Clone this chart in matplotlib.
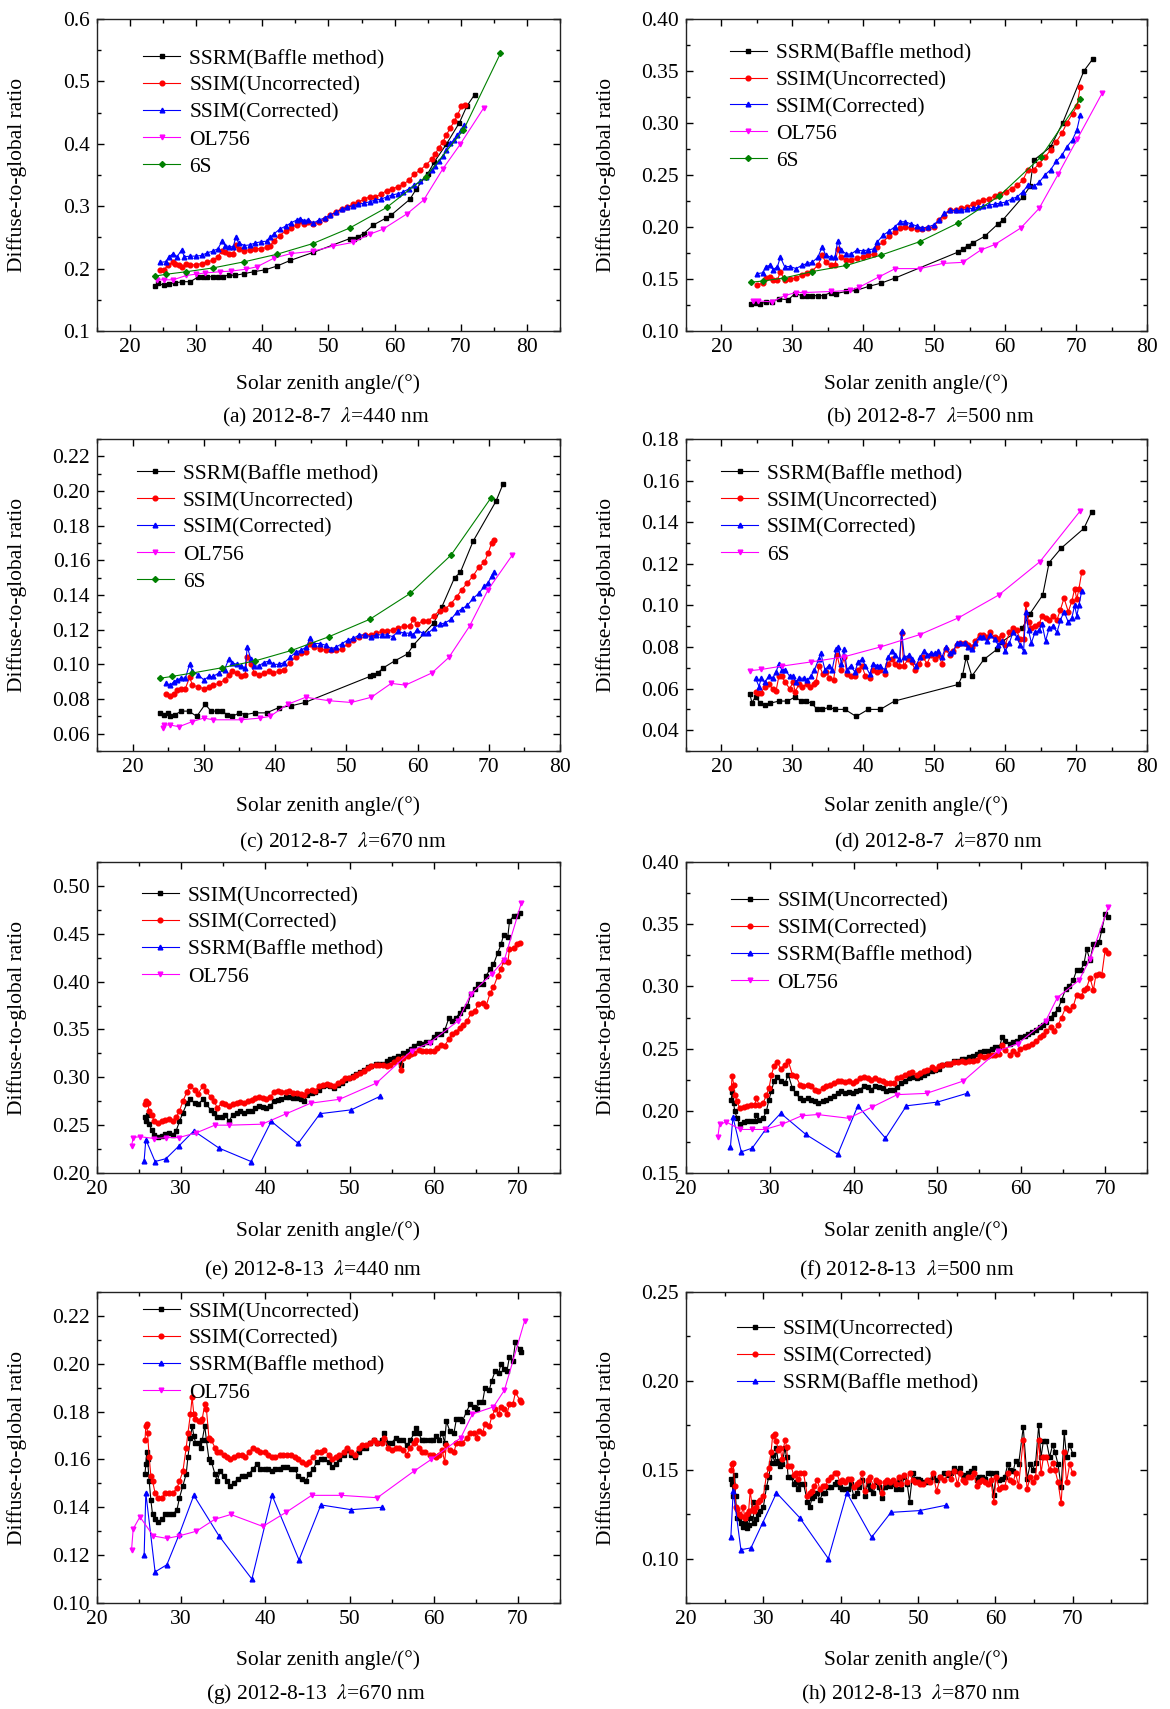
import matplotlib
matplotlib.use("Agg")
import matplotlib.pyplot as plt
from matplotlib.ticker import MultipleLocator, FormatStrFormatter

plt.rcParams['font.family'] = ['Liberation Serif', 'DejaVu Serif']
plt.rcParams['mathtext.fontset'] = 'stix'
FS = 15.5
plt.rcParams['font.size'] = FS

# ---------------- (a) 2012-8-7, 440 nm ----------------
a_ssrm_x = [23.7, 24.2, 25.1, 25.9, 26.8, 27.9, 29.1, 30.2, 31.0, 31.6, 32.5, 33.3, 34.0, 35.0, 35.8, 37.3, 38.7, 40.4,
            42.2, 44.2, 47.7, 53.2, 53.8, 54.4, 55.3, 56.8, 58.7, 59.5, 62.3, 63.3, 65.0, 66.0, 67.8, 69.8, 70.9, 72.1]
a_ssrm_y = [0.172, 0.177, 0.173, 0.176, 0.177, 0.179, 0.179, 0.186, 0.186, 0.187, 0.187, 0.186, 0.187, 0.190, 0.189,
            0.192, 0.195, 0.198, 0.204, 0.213, 0.226, 0.248, 0.248, 0.251, 0.256, 0.270, 0.281, 0.286, 0.311, 0.328,
            0.352, 0.371, 0.399, 0.434, 0.460, 0.479]
a_unc_x = [24.5, 25.1, 25.7, 26.5, 26.8, 27.4, 27.9, 28.5, 29.1, 29.9, 30.8, 31.6, 32.5, 33.3, 33.9, 34.4, 35.0, 35.6,
           36.0, 36.4, 37.3, 38.1, 38.9, 39.8, 40.7, 41.2, 41.8, 42.6, 43.5, 44.3, 45.2, 45.7, 46.3, 46.9, 47.7, 48.6,
           49.4, 50.3, 51.1, 52.0, 52.8, 53.7, 54.5, 55.4, 56.2, 57.1, 57.9, 58.8, 59.6, 60.5, 61.3, 62.2, 63.0, 63.9,
           64.7, 65.6, 66.1, 66.7, 67.3, 67.8, 68.4, 69.0, 69.5, 70.1, 70.7]
a_unc_y = [0.197, 0.198, 0.205, 0.211, 0.208, 0.205, 0.203, 0.208, 0.206, 0.206, 0.208, 0.211, 0.213, 0.219, 0.229,
           0.226, 0.223, 0.223, 0.238, 0.232, 0.229, 0.230, 0.232, 0.232, 0.234, 0.237, 0.245, 0.253, 0.260, 0.265,
           0.270, 0.276, 0.271, 0.275, 0.271, 0.275, 0.280, 0.286, 0.291, 0.296, 0.299, 0.303, 0.307, 0.311, 0.315,
           0.315, 0.319, 0.325, 0.328, 0.331, 0.335, 0.342, 0.352, 0.358, 0.366, 0.375, 0.383, 0.394, 0.403, 0.414,
           0.425, 0.436, 0.446, 0.460, 0.462]
a_cor_x = [24.5, 25.4, 25.9, 26.5, 27.1, 27.8, 28.2, 29.1, 29.9, 30.8, 31.6, 32.5, 33.3, 33.9, 34.4, 35.0, 35.6, 36.0,
           36.4, 37.3, 38.1, 38.9, 39.8, 40.7, 41.2, 41.8, 42.6, 43.5, 44.3, 45.2, 45.7, 46.3, 46.9, 47.7, 48.6, 49.4,
           50.3, 51.1, 52.0, 52.8, 53.7, 54.5, 55.4, 56.2, 57.1, 57.9, 58.8, 59.6, 60.5, 61.3, 62.2, 63.0, 63.9, 64.7,
           65.6, 66.1, 66.7, 67.3, 67.8, 68.4, 69.0, 69.5, 70.1, 70.5]
a_cor_y = [0.210, 0.211, 0.219, 0.224, 0.219, 0.230, 0.219, 0.220, 0.220, 0.221, 0.225, 0.228, 0.232, 0.244, 0.237,
           0.235, 0.235, 0.251, 0.241, 0.237, 0.238, 0.241, 0.243, 0.244, 0.250, 0.256, 0.263, 0.268, 0.273, 0.278,
           0.280, 0.277, 0.278, 0.273, 0.278, 0.281, 0.286, 0.290, 0.295, 0.298, 0.301, 0.303, 0.305, 0.307, 0.310,
           0.311, 0.315, 0.318, 0.320, 0.323, 0.328, 0.334, 0.340, 0.347, 0.358, 0.364, 0.372, 0.380, 0.390, 0.401,
           0.406, 0.414, 0.422, 0.430]
a_ol_x = [24.0, 25.1, 26.5, 28.5, 29.9, 31.3, 33.6, 35.3, 37.5, 39.2, 41.8, 44.3, 47.7, 50.7, 53.7, 56.2, 58.2, 61.9,
          64.4, 67.3, 69.9, 73.5]
a_ol_y = [0.182, 0.182, 0.182, 0.189, 0.191, 0.193, 0.195, 0.196, 0.199, 0.203, 0.217, 0.224, 0.228, 0.236, 0.242,
          0.255, 0.263, 0.288, 0.310, 0.360, 0.399, 0.458]
a_6s_x = [23.8, 25.5, 28.5, 32.5, 37.3, 42.2, 47.6, 53.2, 58.8, 64.7, 70.4, 76.0]
a_6s_y = [0.188, 0.191, 0.195, 0.201, 0.211, 0.223, 0.240, 0.265, 0.298, 0.347, 0.422, 0.545]

# ---------------- (b) 2012-8-7, 500 nm ----------------
b_ssrm_x = [24.2, 24.8, 25.5, 26.3, 27.1, 28.1, 29.4, 30.4, 31.3, 32.1, 32.8, 33.6, 34.4, 35.4, 36.1, 37.6, 39.0, 40.8,
            42.5, 44.5, 53.4, 54.1, 54.7, 55.5, 57.1, 59.0, 59.7, 62.5, 63.5, 64.0, 66.4, 68.1, 71.1, 72.4]
b_ssrm_y = [0.126, 0.127, 0.126, 0.128, 0.128, 0.131, 0.130, 0.136, 0.134, 0.134, 0.134, 0.134, 0.134, 0.137, 0.136,
            0.138, 0.139, 0.143, 0.146, 0.151, 0.176, 0.179, 0.182, 0.185, 0.191, 0.203, 0.207, 0.229, 0.239, 0.264,
            0.277, 0.300, 0.350, 0.362]
b_ssim_x = [25.0, 25.8, 26.3, 26.8, 27.3, 27.9, 28.3, 28.9, 29.7, 30.5, 31.3, 32.1, 32.8, 33.6, 34.2, 34.7, 35.4, 36.0,
            36.4, 36.8, 37.6, 38.3, 39.1, 39.9, 40.7, 41.5, 42.0, 42.8, 43.6, 44.4, 45.2, 45.9, 46.7, 47.5, 48.3, 49.1,
            49.9, 50.7, 51.4, 52.2, 53.0, 53.8, 54.6, 55.4, 56.2, 56.9, 57.7, 58.5, 59.3, 60.1, 60.9, 61.7, 62.5, 63.2,
            64.0, 64.8, 65.6, 66.4, 67.2, 68.0, 68.7, 69.5, 70.1, 70.6]
b_unc_y = [0.144, 0.146, 0.151, 0.152, 0.149, 0.149, 0.157, 0.149, 0.150, 0.151, 0.154, 0.156, 0.158, 0.163, 0.173,
           0.166, 0.163, 0.163, 0.179, 0.171, 0.168, 0.168, 0.170, 0.171, 0.173, 0.174, 0.181, 0.186, 0.191, 0.195,
           0.199, 0.200, 0.199, 0.198, 0.198, 0.199, 0.200, 0.207, 0.211, 0.216, 0.216, 0.218, 0.219, 0.222, 0.224,
           0.226, 0.227, 0.230, 0.232, 0.234, 0.237, 0.240, 0.245, 0.255, 0.255, 0.261, 0.267, 0.274, 0.282, 0.290,
           0.300, 0.309, 0.316, 0.335]
b_cor_y = [0.155, 0.156, 0.162, 0.163, 0.159, 0.162, 0.171, 0.162, 0.162, 0.160, 0.163, 0.165, 0.166, 0.171, 0.181,
           0.173, 0.171, 0.171, 0.187, 0.178, 0.174, 0.174, 0.178, 0.177, 0.178, 0.179, 0.186, 0.192, 0.196, 0.200,
           0.205, 0.205, 0.203, 0.201, 0.199, 0.200, 0.202, 0.207, 0.213, 0.216, 0.216, 0.216, 0.217, 0.218, 0.219,
           0.220, 0.221, 0.222, 0.223, 0.224, 0.227, 0.229, 0.234, 0.240, 0.239, 0.243, 0.250, 0.255, 0.263, 0.269,
           0.277, 0.284, 0.293, 0.308]
b_ol_x = [24.5, 25.2, 27.1, 28.9, 30.5, 31.7, 35.5, 38.1, 39.4, 42.2, 44.5, 48.0, 51.2, 54.0, 56.6, 58.5, 62.2, 64.8,
          67.5, 70.2, 73.7]
b_ol_y = [0.129, 0.129, 0.128, 0.134, 0.137, 0.137, 0.138, 0.139, 0.142, 0.152, 0.160, 0.160, 0.165, 0.166, 0.178,
          0.183, 0.199, 0.218, 0.251, 0.285, 0.329]
b_6s_x = [24.2, 25.8, 28.8, 32.7, 37.6, 42.5, 48.0, 53.4, 59.2, 65.0, 70.6]
b_6s_y = [0.147, 0.148, 0.151, 0.157, 0.163, 0.173, 0.186, 0.204, 0.230, 0.267, 0.323]

# ---------------- (c) 2012-8-7, 670 nm ----------------
c_ssrm_x = [23.8, 24.4, 24.9, 25.3, 26.0, 26.8, 27.9, 29.0, 30.2, 31.0, 31.8, 32.5, 33.3, 34.0, 35.0, 35.8, 37.2, 38.8,
            40.5, 42.2, 44.2, 53.3, 53.8, 54.4, 55.2, 56.8, 58.6, 59.4, 62.3, 63.4, 65.2, 66.0, 67.8, 71.0, 72.0]
c_ssrm_y = [0.072, 0.071, 0.072, 0.070, 0.071, 0.073, 0.073, 0.070, 0.077, 0.073, 0.073, 0.073, 0.071, 0.070, 0.072,
            0.071, 0.072, 0.072, 0.075, 0.076, 0.078, 0.093, 0.094, 0.095, 0.098, 0.102, 0.106, 0.111, 0.124, 0.133,
            0.150, 0.153, 0.171, 0.194, 0.204]
c_ssim_x = [24.7, 25.3, 25.8, 26.3, 26.8, 27.4, 28.0, 28.4, 29.2, 30.0, 30.7, 31.3, 32.1, 32.9, 33.5, 34.0, 34.6, 35.2,
            35.8, 36.1, 36.6, 37.1, 37.7, 38.4, 39.2, 39.7, 40.5, 41.3, 42.1, 42.9, 43.6, 44.4, 44.9, 45.5, 46.3, 47.1,
            47.9, 48.6, 49.4, 50.2, 51.0, 51.8, 52.6, 53.4, 54.2, 55.0, 55.7, 56.5, 57.3, 58.1, 58.9, 59.4, 59.9, 60.7,
            61.5, 62.3, 63.1, 63.9, 64.7, 65.5, 66.2, 67.0, 67.8, 68.6, 69.4, 69.9, 70.4, 70.8]
c_unc_y = [0.083, 0.082, 0.083, 0.085, 0.086, 0.086, 0.0925, 0.088, 0.087, 0.086, 0.087, 0.088, 0.089, 0.091, 0.094,
           0.096, 0.095, 0.093, 0.094, 0.1045, 0.100, 0.095, 0.094, 0.095, 0.096, 0.095, 0.096, 0.097, 0.101, 0.1045,
           0.1065, 0.107, 0.112, 0.110, 0.109, 0.108, 0.108, 0.108, 0.109, 0.112, 0.114, 0.116, 0.117, 0.117, 0.118,
           0.119, 0.119, 0.120, 0.121, 0.122, 0.122, 0.126, 0.123, 0.125, 0.125, 0.128, 0.131, 0.132, 0.135, 0.139,
           0.143, 0.147, 0.151, 0.156, 0.159, 0.164, 0.170, 0.172]
c_cor_y = [0.089, 0.088, 0.090, 0.091, 0.092, 0.092, 0.100, 0.096, 0.094, 0.091, 0.093, 0.093, 0.095, 0.097, 0.103,
           0.101, 0.100, 0.099, 0.098, 0.110, 0.103, 0.099, 0.099, 0.101, 0.102, 0.100, 0.100, 0.101, 0.104, 0.107,
           0.108, 0.110, 0.115, 0.112, 0.112, 0.111, 0.109, 0.110, 0.112, 0.114, 0.115, 0.117, 0.117, 0.116, 0.117,
           0.117, 0.117, 0.116, 0.119, 0.118, 0.118, 0.117, 0.120, 0.118, 0.118, 0.121, 0.123, 0.124, 0.126, 0.130,
           0.132, 0.134, 0.138, 0.141, 0.145, 0.147, 0.151, 0.153]
c_ol_x = [24.2, 24.4, 25.3, 26.5, 28.4, 30.0, 31.3, 35.2, 37.9, 39.3, 41.8, 44.3, 47.6, 50.7, 53.5, 56.3, 58.3, 62.0,
          64.4, 67.3, 69.9, 73.3]
c_ol_y = [0.063, 0.065, 0.065, 0.064, 0.067, 0.069, 0.068, 0.068, 0.069, 0.070, 0.077, 0.081, 0.079, 0.078, 0.081,
          0.089, 0.088, 0.095, 0.104, 0.122, 0.143, 0.163]
c_6s_x = [23.9, 25.5, 28.4, 32.5, 37.2, 42.3, 47.6, 53.3, 59.0, 64.7, 70.3]
c_6s_y = [0.092, 0.093, 0.095, 0.098, 0.102, 0.108, 0.116, 0.126, 0.141, 0.163, 0.196]

# ---------------- (d) 2012-8-7, 870 nm ----------------
d_ssrm_x = [24.0, 24.3, 24.8, 25.5, 26.1, 26.9, 28.1, 29.3, 30.4, 31.2, 31.9, 32.7, 33.5, 34.2, 35.2, 36.0, 37.4, 39.0,
            40.7, 42.4, 44.4, 53.4, 54.0, 54.5, 55.3, 57.0, 58.9, 59.5, 62.4, 63.5, 65.3, 66.2, 67.9, 71.1, 72.2]
d_ssrm_y = [0.0573, 0.0533, 0.056, 0.053, 0.052, 0.053, 0.054, 0.054, 0.056, 0.054, 0.054, 0.053, 0.050, 0.050, 0.051,
            0.050, 0.050, 0.0466, 0.050, 0.050, 0.054, 0.062, 0.0665, 0.075, 0.066, 0.074, 0.079, 0.0825, 0.089, 0.096,
            0.105, 0.1206, 0.1275, 0.137, 0.145]
d_unc_x = [24.8, 25.1, 25.6, 26.1, 26.7, 27.2, 27.7, 28.1, 28.5, 29.0, 29.6, 30.1, 30.4, 30.9, 31.4, 32.0, 32.5, 33.0,
           33.3, 33.8, 34.3, 34.8, 35.2, 35.8, 36.3, 36.8, 37.3, 37.7, 38.2, 38.8, 39.3, 39.8, 40.3, 40.9, 41.4, 41.9,
           42.4, 43.0, 43.5, 44.0, 44.5, 45.1, 45.4, 45.7, 46.3, 46.8, 47.3, 47.9, 48.4, 49.0, 49.5, 50.1, 50.6, 51.1,
           51.6, 52.2, 52.7, 53.2, 53.7, 54.3, 54.8, 55.3, 55.8, 56.4, 56.9, 57.4, 57.9, 58.5, 59.0, 59.5, 60.0, 60.6,
           61.1, 61.6, 62.1, 62.6, 62.9, 63.3, 63.7, 64.2, 64.8, 65.2, 65.7, 66.2, 66.8, 67.3, 67.8, 68.3, 68.9, 69.4,
           69.8, 70.1, 70.4, 70.8]
d_unc_y = [0.0585, 0.058, 0.058, 0.061, 0.062, 0.060, 0.059, 0.066, 0.066, 0.063, 0.060, 0.063, 0.0585, 0.062, 0.061,
           0.062, 0.061, 0.062, 0.063, 0.071, 0.067, 0.068, 0.065, 0.064, 0.076, 0.069, 0.075, 0.067, 0.066, 0.066,
           0.069, 0.071, 0.066, 0.065, 0.069, 0.068, 0.069, 0.067, 0.072, 0.074, 0.072, 0.071, 0.0865, 0.071, 0.074,
           0.073, 0.069, 0.072, 0.075, 0.072, 0.076, 0.074, 0.076, 0.072, 0.079, 0.076, 0.078, 0.081, 0.082, 0.082,
           0.081, 0.080, 0.083, 0.086, 0.086, 0.085, 0.087, 0.085, 0.084, 0.086, 0.081, 0.087, 0.089, 0.088, 0.084,
           0.084, 0.1005, 0.092, 0.089, 0.090, 0.091, 0.095, 0.094, 0.093, 0.095, 0.093, 0.098, 0.1035, 0.097, 0.102,
           0.108, 0.103, 0.108, 0.116]
d_cor_x = [24.8, 25.3, 25.6, 26.1, 26.7, 27.2, 27.7, 28.1, 28.5, 29.0, 29.6, 30.1, 30.5, 31.0, 31.6, 32.1, 32.6, 33.1,
           33.7, 34.0, 34.6, 35.1, 35.6, 36.2, 36.5, 36.9, 37.3, 37.7, 38.2, 38.8, 39.3, 39.8, 40.3, 40.9, 41.4, 41.9,
           42.4, 43.0, 43.5, 44.0, 44.5, 45.1, 45.4, 45.8, 46.4, 46.9, 47.4, 48.0, 48.5, 49.0, 49.6, 50.1, 50.6, 51.1,
           51.6, 52.2, 52.7, 53.2, 53.7, 54.3, 54.8, 55.3, 55.8, 56.4, 56.9, 57.4, 57.9, 58.5, 59.0, 59.5, 60.0, 60.6,
           61.1, 61.6, 62.1, 62.6, 62.9, 63.3, 63.7, 64.2, 64.8, 65.2, 65.7, 66.2, 66.8, 67.3, 67.8, 68.3, 68.9, 69.4,
           69.8, 70.1, 70.4, 70.8]
d_cor_y = [0.065, 0.061, 0.065, 0.063, 0.066, 0.065, 0.068, 0.072, 0.069, 0.069, 0.066, 0.066, 0.063, 0.065, 0.065,
           0.064, 0.066, 0.069, 0.074, 0.077, 0.069, 0.071, 0.069, 0.079, 0.080, 0.072, 0.079, 0.069, 0.071, 0.068,
           0.073, 0.074, 0.071, 0.067, 0.072, 0.071, 0.071, 0.069, 0.075, 0.078, 0.076, 0.074, 0.0875, 0.075, 0.076,
           0.074, 0.071, 0.075, 0.078, 0.076, 0.077, 0.077, 0.078, 0.075, 0.080, 0.077, 0.078, 0.082, 0.082, 0.082,
           0.080, 0.079, 0.082, 0.085, 0.085, 0.083, 0.086, 0.084, 0.081, 0.083, 0.078, 0.082, 0.087, 0.085, 0.081,
           0.078, 0.097, 0.088, 0.082, 0.087, 0.088, 0.091, 0.083, 0.089, 0.090, 0.087, 0.093, 0.097, 0.092, 0.094,
           0.100, 0.095, 0.100, 0.107]
d_6s_x = [24.0, 25.6, 28.5, 32.6, 37.3, 42.4, 48.0, 53.4, 59.1, 64.9, 70.6]
d_6s_y = [0.0686, 0.0692, 0.0708, 0.0728, 0.0753, 0.080, 0.086, 0.094, 0.105, 0.121, 0.1455]

# ---------------- (e) 2012-8-13, 440 nm ----------------
e_ssim_x = [25.7, 25.8, 26.0, 26.2, 26.5, 26.8, 27.2, 27.7, 28.1, 28.6, 29.0, 29.4, 29.8, 30.2, 30.7, 31.1, 31.6, 32.0,
            32.6, 33.0, 33.5, 33.9, 34.3, 34.8, 35.2, 35.7, 36.1, 36.6, 37.0, 37.5, 37.9, 38.4, 38.8, 39.3, 39.7, 40.1,
            40.6, 41.0, 41.5, 41.9, 42.4, 42.8, 43.3, 43.7, 44.2, 44.6, 45.0, 45.5, 45.9, 46.4, 46.8, 47.3, 47.7, 48.2,
            48.6, 49.1, 49.5, 49.9, 50.4, 50.8, 51.3, 51.7, 52.2, 52.6, 53.1, 53.5, 54.0, 54.4, 54.8, 55.3, 55.7, 56.1,
            56.4, 56.9, 57.3, 57.7, 58.2, 58.6, 59.1, 59.5, 60.0, 60.4, 60.9, 61.3, 61.8, 62.2, 62.6, 63.1, 63.5, 64.0,
            64.4, 64.9, 65.3, 65.8, 66.2, 66.7, 67.1, 67.6, 68.0, 68.3, 68.8, 69.0, 69.5, 69.9, 70.2]
e_unc_y = [0.258, 0.254, 0.261, 0.251, 0.245, 0.240, 0.238, 0.239, 0.241, 0.242,
           0.240, 0.244, 0.254, 0.263, 0.273, 0.277, 0.273, 0.272, 0.277, 0.272,
           0.266, 0.263, 0.258, 0.259, 0.261, 0.254, 0.261, 0.263, 0.265, 0.263,
           0.265, 0.265, 0.268, 0.270, 0.269, 0.268, 0.270, 0.275, 0.276, 0.277,
           0.279, 0.279, 0.278, 0.278, 0.277, 0.275, 0.282, 0.284, 0.285, 0.287,
           0.291, 0.292, 0.291, 0.289, 0.292, 0.294, 0.297, 0.299, 0.301, 0.303,
           0.306, 0.308, 0.311, 0.312, 0.314, 0.314, 0.314, 0.317, 0.319, 0.320,
           0.322, 0.313, 0.325, 0.327, 0.330, 0.333, 0.336, 0.335, 0.337, 0.337,
           0.342, 0.345, 0.345, 0.349, 0.362, 0.359, 0.362, 0.367, 0.371, 0.374,
           0.387, 0.392, 0.397, 0.397, 0.406, 0.413, 0.418, 0.430, 0.439, 0.449,
           0.447, 0.463, 0.469, 0.469, 0.472]
e_cor_y = [0.272, 0.275, 0.273, 0.265, 0.261, 0.254, 0.252, 0.254, 0.255, 0.256,
           0.254, 0.258, 0.265, 0.275, 0.285, 0.291, 0.287, 0.283, 0.291, 0.286,
           0.279, 0.275, 0.268, 0.273, 0.272, 0.270, 0.272, 0.273, 0.274, 0.273,
           0.275, 0.276, 0.278, 0.279, 0.278, 0.277, 0.279, 0.285, 0.286, 0.285,
           0.285, 0.286, 0.284, 0.284, 0.283, 0.282, 0.286, 0.287, 0.286, 0.291,
           0.292, 0.293, 0.292, 0.291, 0.294, 0.296, 0.299, 0.299, 0.300, 0.302,
           0.304, 0.307, 0.310, 0.312, 0.313, 0.313, 0.313, 0.312, 0.313, 0.316,
           0.319, 0.308, 0.320, 0.322, 0.324, 0.325, 0.329, 0.327, 0.328, 0.327,
           0.327, 0.331, 0.334, 0.333, 0.340, 0.345, 0.347, 0.352, 0.355, 0.359,
           0.367, 0.369, 0.377, 0.378, 0.374, 0.388, 0.394, 0.406, 0.413, 0.422,
           0.420, 0.434, 0.435, 0.439, 0.440]
e_ssrm_x = [25.6, 25.8, 26.9, 28.2, 29.7, 31.5, 34.5, 38.3, 40.7, 43.9, 46.5, 50.2, 53.6]
e_ssrm_y = [0.213, 0.235, 0.212, 0.215, 0.228, 0.244, 0.226, 0.212, 0.254, 0.231, 0.262, 0.266, 0.280]
e_ol_x = [24.1, 24.3, 25.1, 26.8, 28.2, 29.7, 31.8, 34.0, 35.7, 39.6, 42.5, 45.4, 48.8, 53.2, 57.4, 59.5, 62.9, 64.4,
          66.9, 68.4, 70.4]
e_ol_y = [0.228, 0.237, 0.238, 0.236, 0.237, 0.237, 0.242, 0.250, 0.250, 0.251, 0.262, 0.273, 0.277, 0.294, 0.328,
          0.336, 0.359, 0.387, 0.408, 0.423, 0.482]

# ---------------- (f) 2012-8-13, 500 nm ----------------
f_ssim_x = [25.4, 25.5, 25.7, 25.8, 26.1, 26.4, 26.9, 27.3, 27.8, 28.2, 28.4, 28.7, 29.2, 29.6, 29.9, 30.2, 30.5, 30.9,
            31.3, 31.8, 32.2, 32.7, 33.1, 33.6, 34.0, 34.5, 34.9, 35.4, 35.8, 36.3, 36.7, 37.2, 37.6, 38.1, 38.5, 39.0,
            39.4, 39.9, 40.3, 40.8, 41.2, 41.7, 42.1, 42.6, 43.0, 43.5, 43.9, 44.3, 44.8, 45.2, 45.7, 46.1, 46.6, 47.0,
            47.5, 47.9, 48.4, 48.8, 49.3, 49.7, 50.2, 50.6, 51.1, 51.5, 52.0, 52.4, 52.9, 53.3, 53.8, 54.2, 54.7, 55.1,
            55.6, 56.0, 56.5, 56.9, 57.4, 57.7, 58.1, 58.6, 59.0, 59.5, 59.9, 60.4, 60.8, 61.3, 61.7, 62.2, 62.6, 63.0,
            63.5, 63.9, 64.4, 64.8, 65.3, 65.7, 66.2, 66.6, 67.1, 67.5, 67.8, 68.2, 68.6, 68.9, 69.3, 69.6, 70.0, 70.4]
f_unc_y = [0.209, 0.215, 0.206, 0.200, 0.194, 0.189, 0.191, 0.192, 0.192, 0.192,
           0.197, 0.193, 0.194, 0.200, 0.209, 0.216, 0.224, 0.227, 0.224, 0.222,
           0.229, 0.218, 0.214, 0.210, 0.209, 0.210, 0.209, 0.208, 0.206, 0.208,
           0.209, 0.210, 0.212, 0.214, 0.216, 0.214, 0.215, 0.214, 0.216, 0.217,
           0.220, 0.219, 0.217, 0.220, 0.219, 0.218, 0.216, 0.217, 0.217, 0.219,
           0.222, 0.224, 0.226, 0.227, 0.226, 0.227, 0.229, 0.230, 0.232, 0.233,
           0.234, 0.237, 0.238, 0.238, 0.240, 0.240, 0.242, 0.242, 0.243, 0.244,
           0.246, 0.247, 0.248, 0.248, 0.250, 0.251, 0.251, 0.259, 0.256, 0.254,
           0.255, 0.256, 0.259, 0.260, 0.262, 0.263, 0.265, 0.267, 0.269, 0.271,
           0.275, 0.278, 0.282, 0.289, 0.298, 0.300, 0.305, 0.313, 0.313, 0.319,
           0.330, 0.321, 0.334, 0.334, 0.336, 0.345, 0.358, 0.356]
f_cor_y = [0.218, 0.228, 0.221, 0.213, 0.208, 0.202, 0.203, 0.204, 0.205, 0.205,
           0.210, 0.205, 0.206, 0.213, 0.218, 0.229, 0.236, 0.239, 0.234, 0.237,
           0.240, 0.229, 0.228, 0.221, 0.220, 0.221, 0.220, 0.217, 0.216, 0.218,
           0.220, 0.221, 0.222, 0.224, 0.224, 0.223, 0.224, 0.222, 0.224, 0.226,
           0.227, 0.226, 0.225, 0.226, 0.225, 0.224, 0.222, 0.222, 0.222, 0.226,
           0.227, 0.229, 0.230, 0.231, 0.229, 0.230, 0.232, 0.233, 0.235, 0.234,
           0.236, 0.237, 0.238, 0.238, 0.239, 0.239, 0.240, 0.239, 0.240, 0.240,
           0.241, 0.244, 0.243, 0.244, 0.245, 0.245, 0.246, 0.253, 0.249, 0.245,
           0.248, 0.246, 0.250, 0.251, 0.252, 0.254, 0.256, 0.259, 0.261, 0.264,
           0.267, 0.264, 0.269, 0.275, 0.283, 0.281, 0.284, 0.293, 0.292, 0.297,
           0.299, 0.307, 0.297, 0.309, 0.310, 0.309, 0.329, 0.327]
f_ssrm_x = [25.3, 25.6, 26.6, 27.9, 29.5, 31.3, 34.3, 38.1, 40.5, 43.8, 46.3, 50.0, 53.5]
f_ssrm_y = [0.171, 0.195, 0.167, 0.170, 0.185, 0.198, 0.181, 0.165, 0.204, 0.178, 0.204, 0.207, 0.214]
f_ol_x = [23.8, 24.0, 24.8, 26.5, 27.9, 29.4, 31.4, 33.8, 35.7, 39.4, 42.2, 45.2, 48.7, 53.1, 57.2, 59.6, 62.9, 64.3,
          66.9, 68.2, 70.4]
f_ol_y = [0.179, 0.189, 0.191, 0.185, 0.185, 0.185, 0.189, 0.196, 0.197, 0.194, 0.203, 0.213, 0.214, 0.224, 0.248,
          0.254, 0.272, 0.291, 0.305, 0.322, 0.364]

# ---------------- (g) 2012-8-13, 670 nm ----------------
g_ssim_x = [25.7, 25.8, 25.9, 26.0, 26.2, 26.4, 26.6, 26.9, 27.3, 27.7, 28.1, 28.6, 29.0, 29.5, 29.8, 30.2, 30.6, 30.8,
            31.1, 31.3, 31.5, 31.7, 32.1, 32.3, 32.5, 32.8, 33.0, 33.3, 33.6, 34.0, 34.3, 34.6, 35.1, 35.4, 35.8, 36.3,
            36.7, 37.2, 37.6, 38.1, 38.5, 39.0, 39.4, 39.9, 40.3, 40.8, 41.2, 41.7, 42.1, 42.6, 43.0, 43.5, 43.9, 44.4,
            44.8, 45.2, 45.7, 46.1, 46.6, 47.0, 47.5, 47.9, 48.4, 48.8, 49.3, 49.7, 50.2, 50.6, 51.1, 51.5, 52.0, 52.4,
            52.9, 53.3, 53.8, 54.1, 54.6, 55.0, 55.5, 55.9, 56.3, 56.8, 57.2, 57.7, 57.9, 58.2, 58.6, 59.0, 59.5, 59.9,
            60.3, 60.6, 61.0, 61.3, 61.5, 61.9, 62.4, 62.7, 63.1, 63.4, 63.9, 64.3, 64.8, 65.1, 65.4, 65.8, 66.1, 66.6,
            66.9, 67.3, 67.7, 68.0, 68.4, 68.7, 69.0, 69.4, 69.7, 70.2, 70.4]
g_unc_y = [0.154, 0.158, 0.163, 0.160, 0.151, 0.143, 0.137, 0.135, 0.134, 0.135,
           0.137, 0.137, 0.137, 0.139, 0.144, 0.149, 0.154, 0.161, 0.169, 0.174,
           0.170, 0.167, 0.167, 0.165, 0.168, 0.174, 0.168, 0.160, 0.159, 0.154,
           0.151, 0.155, 0.153, 0.151, 0.149, 0.150, 0.152, 0.153, 0.153, 0.154,
           0.156, 0.158, 0.156, 0.156, 0.156, 0.155, 0.156, 0.156, 0.157, 0.157,
           0.156, 0.156, 0.153, 0.152, 0.151, 0.154, 0.156, 0.159, 0.160, 0.160,
           0.159, 0.157, 0.158, 0.160, 0.162, 0.164, 0.162, 0.161, 0.163, 0.165,
           0.165, 0.167, 0.168, 0.167, 0.168, 0.171, 0.167, 0.167, 0.169, 0.168,
           0.168, 0.166, 0.168, 0.171, 0.173, 0.171, 0.168, 0.168, 0.168, 0.168,
           0.170, 0.168, 0.171, 0.167, 0.176, 0.172, 0.171, 0.177, 0.177, 0.176,
           0.180, 0.183, 0.182, 0.181, 0.184, 0.184, 0.190, 0.189, 0.193, 0.197,
           0.196, 0.200, 0.198, 0.197, 0.203, 0.201, 0.209, 0.206, 0.205]
g_cor_y = [0.168, 0.174, 0.175, 0.171, 0.161, 0.153, 0.151, 0.146, 0.144, 0.144,
           0.146, 0.146, 0.146, 0.148, 0.151, 0.155, 0.165, 0.171, 0.179, 0.186,
           0.179, 0.177, 0.176, 0.176, 0.177, 0.183, 0.181, 0.169, 0.168, 0.165,
           0.163, 0.163, 0.162, 0.161, 0.160, 0.161, 0.162, 0.162, 0.161, 0.163,
           0.165, 0.164, 0.163, 0.163, 0.162, 0.161, 0.161, 0.162, 0.162, 0.162,
           0.162, 0.161, 0.160, 0.159, 0.158, 0.159, 0.161, 0.163, 0.163, 0.164,
           0.162, 0.160, 0.161, 0.162, 0.163, 0.165, 0.163, 0.162, 0.165, 0.166,
           0.166, 0.167, 0.168, 0.167, 0.167, 0.169, 0.165, 0.164, 0.165, 0.165,
           0.164, 0.162, 0.165, 0.167, 0.168, 0.165, 0.163, 0.163, 0.162, 0.162,
           0.161, 0.162, 0.164, 0.159, 0.166, 0.164, 0.163, 0.167, 0.167, 0.167,
           0.169, 0.171, 0.171, 0.169, 0.172, 0.171, 0.175, 0.174, 0.178, 0.181,
           0.179, 0.182, 0.181, 0.179, 0.183, 0.183, 0.188, 0.185, 0.184]
g_ssrm_x = [25.6, 25.8, 26.9, 28.3, 29.8, 31.5, 34.5, 38.4, 40.8, 44.0, 46.6, 50.2, 53.8]
g_ssrm_y = [0.120, 0.146, 0.113, 0.116, 0.129, 0.145, 0.128, 0.110, 0.145, 0.118, 0.141, 0.139, 0.140]
g_ol_x = [24.1, 24.3, 25.1, 26.7, 28.3, 29.7, 31.8, 34.0, 35.9, 39.7, 42.5, 45.5, 49.0, 53.3, 57.6, 59.7, 63.2, 64.6,
          67.1, 68.4, 70.8]
g_ol_y = [0.122, 0.131, 0.136, 0.128, 0.127, 0.128, 0.130, 0.135, 0.137, 0.132, 0.138, 0.145, 0.145, 0.144, 0.155,
          0.160, 0.169, 0.179, 0.182, 0.189, 0.218]

# ---------------- (h) 2012-8-13, 870 nm ----------------
h_ssim_x = [25.8, 26.0, 26.1, 26.3, 26.4, 26.6, 26.9, 27.1, 27.4, 27.6, 27.9, 28.1, 28.3, 28.6, 28.8, 29.1, 29.3, 29.6,
            30.0, 30.4, 30.7, 31.0, 31.2, 31.5, 31.7, 31.9, 32.2, 32.4, 32.8, 33.0, 33.2, 33.6, 33.9, 34.2, 34.5, 34.8,
            35.2, 35.7, 36.0, 36.3, 36.6, 37.0, 37.3, 37.7, 38.0, 38.4, 38.8, 39.2, 39.5, 39.9, 40.2, 40.6, 40.9, 41.3,
            41.7, 42.1, 42.4, 42.8, 43.1, 43.5, 43.8, 44.2, 44.6, 44.9, 45.3, 45.7, 46.0, 46.4, 46.7, 47.1, 47.5, 47.8,
            48.2, 48.6, 48.9, 49.3, 49.6, 50.0, 50.3, 50.7, 51.1, 51.5, 51.9, 52.4, 52.9, 53.4, 53.9, 54.3, 54.7, 55.1,
            55.4, 55.8, 56.1, 56.5, 56.8, 57.2, 57.6, 57.9, 58.3, 58.7, 59.0, 59.4, 59.8, 60.1, 60.5, 60.8, 61.2, 61.6,
            61.9, 62.3, 62.6, 63.0, 63.6, 64.1, 64.5, 64.8, 65.2, 65.6, 65.9, 66.2, 66.6, 67.0, 67.4, 67.7, 68.1, 68.5,
            68.9, 69.2, 69.6, 70.0]
h_unc_y = [0.145, 0.142, 0.135, 0.147, 0.135, 0.123, 0.123, 0.120, 0.118, 0.120,
           0.117, 0.119, 0.123, 0.132, 0.120, 0.122, 0.125, 0.127, 0.129, 0.140,
           0.146, 0.154, 0.158, 0.154, 0.162, 0.155, 0.152, 0.153, 0.162, 0.157,
           0.146, 0.146, 0.142, 0.143, 0.139, 0.142, 0.142, 0.132, 0.129, 0.134,
           0.135, 0.137, 0.133, 0.137, 0.137, 0.140, 0.140, 0.142, 0.143, 0.140,
           0.139, 0.139, 0.139, 0.142, 0.135, 0.137, 0.140, 0.144, 0.135, 0.142,
           0.139, 0.137, 0.143, 0.140, 0.134, 0.140, 0.143, 0.141, 0.142, 0.139,
           0.144, 0.139, 0.146, 0.142, 0.132, 0.148, 0.145, 0.145, 0.144, 0.143,
           0.143, 0.144, 0.146, 0.144, 0.146, 0.148, 0.147, 0.148, 0.151, 0.149,
           0.151, 0.147, 0.146, 0.148, 0.149, 0.151, 0.144, 0.146, 0.146, 0.145,
           0.148, 0.148, 0.136, 0.148, 0.144, 0.145, 0.146, 0.153, 0.150, 0.149,
           0.155, 0.153, 0.174, 0.145, 0.153, 0.150, 0.154, 0.175, 0.157, 0.166,
           0.166, 0.157, 0.164, 0.160, 0.153, 0.140, 0.171, 0.157, 0.164, 0.159]
h_cor_y = [0.150, 0.153, 0.154, 0.141, 0.129, 0.128, 0.125, 0.124, 0.129, 0.123,
           0.125, 0.127, 0.138, 0.128, 0.127, 0.129, 0.132, 0.133, 0.135, 0.147,
           0.151, 0.160, 0.169, 0.170, 0.166, 0.161, 0.162, 0.156, 0.167, 0.163,
           0.152, 0.152, 0.147, 0.148, 0.145, 0.148, 0.148, 0.135, 0.137, 0.138,
           0.141, 0.144, 0.139, 0.141, 0.141, 0.144, 0.146, 0.148, 0.148, 0.143,
           0.144, 0.143, 0.145, 0.145, 0.140, 0.142, 0.143, 0.148, 0.138, 0.144,
           0.146, 0.141, 0.144, 0.143, 0.137, 0.143, 0.144, 0.143, 0.144, 0.142,
           0.146, 0.142, 0.147, 0.143, 0.148, 0.144, 0.143, 0.143, 0.142, 0.142,
           0.144, 0.143, 0.148, 0.138, 0.146, 0.144, 0.148, 0.145, 0.149, 0.142,
           0.148, 0.144, 0.143, 0.146, 0.146, 0.148, 0.141, 0.143, 0.144, 0.143,
           0.142, 0.144, 0.132, 0.146, 0.139, 0.140, 0.140, 0.148, 0.144, 0.143,
           0.148, 0.141, 0.167, 0.139, 0.146, 0.143, 0.146, 0.167, 0.148, 0.157,
           0.157, 0.150, 0.154, 0.150, 0.143, 0.131, 0.160, 0.143, 0.153, 0.148]
h_ssrm_x = [25.8, 26.1, 27.1, 28.4, 29.9, 31.7, 34.7, 38.4, 40.8, 44.0, 46.5, 50.2, 53.6]
h_ssrm_y = [0.112, 0.138, 0.105, 0.106, 0.120, 0.137, 0.123, 0.100, 0.137, 0.112, 0.126, 0.127, 0.130]

captions = ['(a) 2012-8-7  $\\lambda$=440 nm', '(b) 2012-8-7  $\\lambda$=500 nm',
            '(c) 2012-8-7  $\\lambda$=670 nm', '(d) 2012-8-7  $\\lambda$=870 nm',
            '(e) 2012-8-13  $\\lambda$=440 nm', '(f) 2012-8-13  $\\lambda$=500 nm',
            '(g) 2012-8-13  $\\lambda$=670 nm', '(h) 2012-8-13  $\\lambda$=870 nm']

BLK, RED, BLU, MAG, GRN = 'black', '#ff0000', '#0000ff', '#ff00ff', '#008000'
L_SSRM, L_UNC, L_COR, L_OL, L_6S = 'SSRM(Baffle method)', 'SSIM(Uncorrected)', 'SSIM(Corrected)', 'OL756', '6S'

panels = [
    [(a_ssrm_x, a_ssrm_y, BLK, 's', L_SSRM), (a_unc_x, a_unc_y, RED, 'o', L_UNC), (a_cor_x, a_cor_y, BLU, '^', L_COR),
     (a_ol_x, a_ol_y, MAG, 'v', L_OL), (a_6s_x, a_6s_y, GRN, 'D', L_6S)],
    [(b_ssrm_x, b_ssrm_y, BLK, 's', L_SSRM), (b_ssim_x, b_unc_y, RED, 'o', L_UNC), (b_ssim_x, b_cor_y, BLU, '^', L_COR),
     (b_ol_x, b_ol_y, MAG, 'v', L_OL), (b_6s_x, b_6s_y, GRN, 'D', L_6S)],
    [(c_ssrm_x, c_ssrm_y, BLK, 's', L_SSRM), (c_ssim_x, c_unc_y, RED, 'o', L_UNC), (c_ssim_x, c_cor_y, BLU, '^', L_COR),
     (c_ol_x, c_ol_y, MAG, 'v', L_OL), (c_6s_x, c_6s_y, GRN, 'D', L_6S)],
    [(d_ssrm_x, d_ssrm_y, BLK, 's', L_SSRM), (d_unc_x, d_unc_y, RED, 'o', L_UNC), (d_cor_x, d_cor_y, BLU, '^', L_COR),
     (d_6s_x, d_6s_y, MAG, 'v', L_6S)],
    [(e_ssim_x, e_unc_y, BLK, 's', L_UNC), (e_ssim_x, e_cor_y, RED, 'o', L_COR), (e_ssrm_x, e_ssrm_y, BLU, '^', L_SSRM),
     (e_ol_x, e_ol_y, MAG, 'v', L_OL)],
    [(f_ssim_x, f_unc_y, BLK, 's', L_UNC), (f_ssim_x, f_cor_y, RED, 'o', L_COR), (f_ssrm_x, f_ssrm_y, BLU, '^', L_SSRM),
     (f_ol_x, f_ol_y, MAG, 'v', L_OL)],
    [(g_ssim_x, g_unc_y, BLK, 's', L_UNC), (g_ssim_x, g_cor_y, RED, 'o', L_COR), (g_ssrm_x, g_ssrm_y, BLU, '^', L_SSRM),
     (g_ol_x, g_ol_y, MAG, 'v', L_OL)],
    [(h_ssim_x, h_unc_y, BLK, 's', L_UNC), (h_ssim_x, h_cor_y, RED, 'o', L_COR), (h_ssrm_x, h_ssrm_y, BLU, '^', L_SSRM)],
]

# axis settings per panel
xlims = [(15, 85), (15, 80), (15, 80), (15, 80), (20, 75), (20, 75), (20, 75), (20, 79.6)]
ylims = [(0.1, 0.6), (0.1, 0.4), (0.05, 0.23), (0.03, 0.18), (0.2, 0.525), (0.15, 0.4), (0.1, 0.23), (0.075, 0.25)]
ysteps = [0.1, 0.05, 0.02, 0.02, 0.05, 0.05, 0.02, 0.05]
yfmts = ['%.1f', '%.2f', '%.2f', '%.2f', '%.2f', '%.2f', '%.2f', '%.2f']
leg_pos = [(0.10, 0.904), (0.095, 0.923), (0.086, 0.920), (0.076, 0.920),
           (0.097, 0.923), (0.098, 0.904), (0.099, 0.968), (0.11, 0.913)]
cap_dx = [-3, 14, 14, 22, -15, -10, -13, -6]

W, H = 1170, 1709
fig = plt.figure(figsize=(11.7, 17.09), dpi=100)
col_left = [97, 686]
col_right = [560, 1147]
row_top = [19, 439, 862, 1292]
row_bot = [331, 751, 1173, 1603]
xlab_c = [384, 806, 1231, 1660]
cap_y = [417, 842, 1270, 1694]

for i in range(8):
    r, c = i // 2, i % 2
    ax = fig.add_axes([col_left[c] / W, 1 - row_bot[r] / H, (col_right[c] - col_left[c]) / W,
                       (row_bot[r] - row_top[r]) / H])
    for x, y, col, m, lab in panels[i]:
        ax.plot(x, y, color=col, marker=m, ms=3.4 if m != 'D' else 3.0, lw=0.8, label=lab)
    ax.set_xlim(*xlims[i])
    ax.set_ylim(*ylims[i])
    ax.xaxis.set_major_locator(MultipleLocator(10))
    ax.xaxis.set_minor_locator(MultipleLocator(5))
    ax.yaxis.set_major_locator(MultipleLocator(ysteps[i]))
    ax.yaxis.set_minor_locator(MultipleLocator(ysteps[i] / 2))
    ax.yaxis.set_major_formatter(FormatStrFormatter(yfmts[i]))
    ax.tick_params(which='both', direction='in', top=True, right=True, labelsize=FS, width=1.0)
    ax.tick_params(which='major', length=5, pad=5)
    ax.tick_params(which='minor', length=3)
    for sp in ax.spines.values():
        sp.set_linewidth(1.0)
        sp.set_color('#222222')
    ax.set_ylabel('Diffuse-to-global ratio', fontsize=FS)
    ax.yaxis.set_label_coords(-0.152, 0.5)
    cx = (col_left[c] + col_right[c]) / 2
    fig.text(cx / W, 1 - xlab_c[r] / H, 'Solar zenith angle/(°)', ha='center', va='center', fontsize=FS)
    ax.legend(loc='upper left', bbox_to_anchor=leg_pos[i], frameon=False, fontsize=FS,
              borderpad=0, borderaxespad=0, handlelength=1.72, handletextpad=0.42, labelspacing=0.32)
    fig.text((cx + cap_dx[i]) / W, 1 - cap_y[r] / H, captions[i], ha='center', va='center', fontsize=FS)

fig.savefig('out.png', dpi=100)
